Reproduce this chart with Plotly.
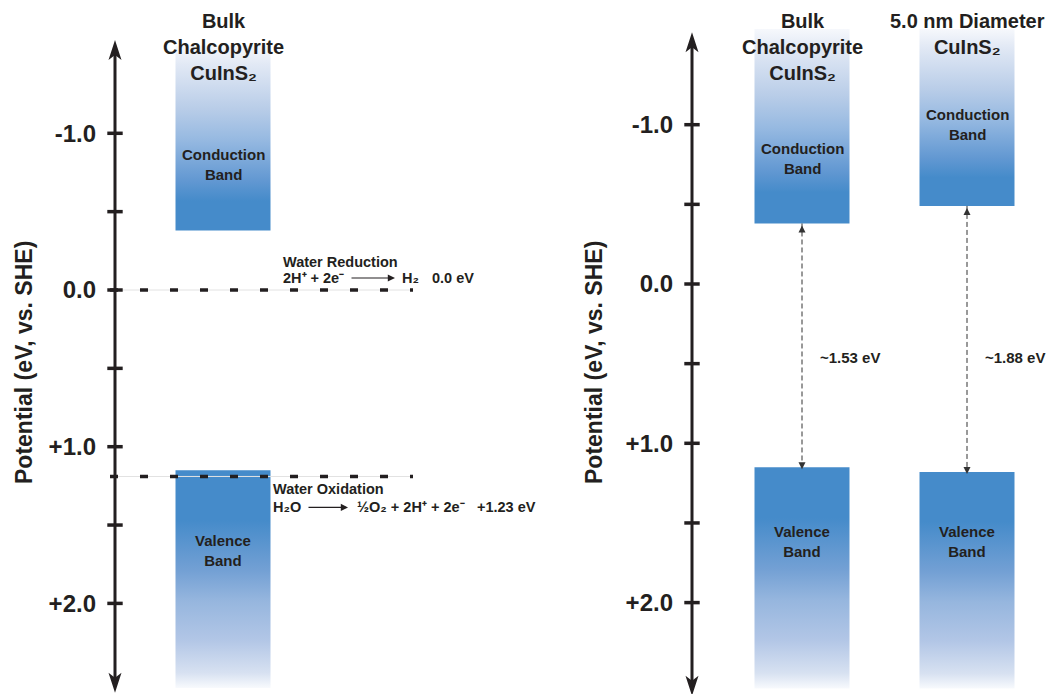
import plotly.graph_objects as go

# ------------------------------------------------------------------ data
TICK_VALUES = [-1.0, 0.0, 1.0, 2.0]
TICK_LABELS = ["-1.0", "0.0", "+1.0", "+2.0"]
TICK_MARKS = [-1.0, -0.5, 0.0, 0.5, 1.0, 1.5, 2.0]

LEFT_MATERIALS = ["Bulk<br>Chalcopyrite<br>CuInS₂"]
LEFT_CB_EDGE = [-0.38]
LEFT_VB_EDGE = [1.15]

RIGHT_MATERIALS = ["Bulk<br>Chalcopyrite<br>CuInS₂",
                   "5.0 nm Diameter<br>CuInS₂"]
RIGHT_CB_EDGE = [-0.38, -0.49]
RIGHT_VB_EDGE = [1.15, 1.18]
GAP_LABELS = ["~1.53 eV", "~1.88 eV"]

REDOX_NAMES = ["Water Reduction", "Water Oxidation"]
REDOX_LEVELS = [0.0, 1.19]
REDOX_REACTANTS = ["2H⁺ + 2e⁻", "H₂O"]
REDOX_PRODUCTS = ["H₂", "½O₂ + 2H⁺ + 2e⁻"]
REDOX_POTENTIALS = ["0.0 eV", "+1.23 eV"]

CB_LABEL = "Conduction<br>Band"
VB_LABEL = "Valence<br>Band"
AXIS_TITLE = "Potential (eV, vs. SHE)"

# ------------------------------------------------------------------ layout / style
W, H = 1053, 694
INK = "#231f20"
BLUE = "#458bca"
FONT = "Liberation Sans"
PX_PER_X = 100.0  # pixels per x unit

PANELS = [
    dict(name="left", xa="x", ya="y", axis_px=115, zero_px=290, px_per_ev=156.7,
         dom_px=(15, 565), axis_ends=(-1.595, 2.57), title_px=24,
         centers=[1.08], cb_top=-1.56, vb_bottom=2.54,
         cb_label_y=[-0.80], vb_label_y=[1.66]),
    dict(name="right", xa="x2", ya="y2", axis_px=692, zero_px=284, px_per_ev=159.3,
         dom_px=(592, 1053), axis_ends=(-1.58, 2.585), title_px=594,
         centers=[1.10, 2.75], cb_top=-1.60, vb_bottom=2.54,
         cb_label_y=[-0.79, -1.00], vb_label_y=[1.616, 1.616]),
]
BAND_W = 0.95

CB_SCALE = [[0.0, "rgb(246,248,252)"], [0.1, "rgb(226,233,245)"],
            [0.34, "rgb(185,205,232)"], [0.51, "rgb(150,185,225)"],
            [0.73, "rgb(98,152,210)"], [0.84, BLUE], [1.0, BLUE]]
VB_SCALE = [[0.0, BLUE], [0.23, BLUE], [0.46, "rgb(115,160,212)"],
            [0.6, "rgb(150,182,222)"], [0.78, "rgb(178,198,230)"],
            [0.93, "rgb(215,225,241)"], [1.0, "rgb(248,250,253)"]]

REDOX_ROWS = [
    dict(name_x=1.66, name_dy=28, row_x=1.66, row_dy=12, arrow=(2.35, 2.80),
         product_x=2.85, pot_x=3.15),
    dict(name_x=1.56, name_dy=-13, row_x=1.56, row_dy=-31, arrow=(1.92, 2.33),
         product_x=2.40, pot_x=3.60),
]

fig = go.Figure()
annotations = []
shapes = []


def txt(text, x, y, xref, yref, size, xanchor="center", yanchor="middle",
        yshift=0, textangle=0):
    return dict(text=text, x=x, y=y, xref=xref, yref=yref, showarrow=False,
                xanchor=xanchor, yanchor=yanchor, yshift=yshift, align="center",
                textangle=textangle,
                font=dict(family=FONT, size=size, color=INK, weight="bold"))


def add_band(p, center, y_far, y_edge, scale):
    x0, x1 = center - BAND_W / 2, center + BAND_W / 2
    lo, hi = min(y_far, y_edge), max(y_far, y_edge)
    fig.add_trace(go.Scatter(
        x=[x0, x1, x1, x0, x0], y=[y_far, y_far, y_edge, y_edge, y_far],
        xaxis=p["xa"], yaxis=p["ya"], mode="lines", fill="toself",
        line=dict(width=0), hoverinfo="skip",
        fillgradient=dict(type="vertical", colorscale=scale, start=lo, stop=hi)))


def add_axis(p):
    top, bottom = p["axis_ends"]
    shorten = 12.0 / p["px_per_ev"]
    fig.add_trace(go.Scatter(
        x=[0, 0], y=[top + shorten, bottom - shorten], xaxis=p["xa"], yaxis=p["ya"],
        mode="lines", line=dict(color=INK, width=3), hoverinfo="skip"))
    fig.add_trace(go.Scatter(
        x=[0] * len(TICK_MARKS), y=TICK_MARKS, xaxis=p["xa"], yaxis=p["ya"],
        mode="markers", cliponaxis=False, hoverinfo="skip",
        marker=dict(symbol="line-ew", size=11, line=dict(color=INK, width=3.5))))
    for tip, sign in ((top, 1), (bottom, -1)):
        shapes.append(dict(
            type="path", xref=p["xa"], yref=p["ya"], xsizemode="pixel",
            ysizemode="pixel", xanchor=0, yanchor=tip,
            path=f"M0,0 L-6.5,{-20 * sign} L0,{-15 * sign} L6.5,{-20 * sign} Z",
            fillcolor=INK, line=dict(width=0)))


# ---------------- bands
for p, cbs, vbs, mats in ((PANELS[0], LEFT_CB_EDGE, LEFT_VB_EDGE, LEFT_MATERIALS),
                          (PANELS[1], RIGHT_CB_EDGE, RIGHT_VB_EDGE, RIGHT_MATERIALS)):
    for i, (cb, vb, mat) in enumerate(zip(cbs, vbs, mats)):
        c = p["centers"][i]
        add_band(p, c, p["cb_top"], cb, CB_SCALE)
        add_band(p, c, p["vb_bottom"], vb, VB_SCALE)
        annotations.append(txt(CB_LABEL, c, p["cb_label_y"][i], p["xa"], p["ya"], 15))
        annotations.append(txt(VB_LABEL, c, p["vb_label_y"][i], p["xa"], p["ya"], 15))
        annotations.append(txt(mat, c, 1, p["xa"], "paper", 20, yanchor="top", yshift=-8))

# ---------------- redox levels (left panel)
for lev, name, react, prod, pot, row in zip(REDOX_LEVELS, REDOX_NAMES, REDOX_REACTANTS,
                                            REDOX_PRODUCTS, REDOX_POTENTIALS, REDOX_ROWS):
    fig.add_trace(go.Scatter(x=[0, 2.98], y=[lev, lev], mode="lines", hoverinfo="skip",
                             line=dict(color="#e2e2e2", width=1)))
    fig.add_trace(go.Scatter(x=[-0.05, 2.98], y=[lev, lev], mode="lines", hoverinfo="skip",
                             line=dict(color=INK, width=3.5, dash="8px,22px")))
    annotations.append(txt(name, row["name_x"], lev, "x", "y", 14.5, xanchor="left",
                           yshift=row["name_dy"]))
    annotations.append(txt(react, row["row_x"], lev, "x", "y", 14.5, xanchor="left",
                           yshift=row["row_dy"]))
    annotations.append(txt(prod, row["product_x"], lev, "x", "y", 14.5, xanchor="left",
                           yshift=row["row_dy"]))
    annotations.append(txt(pot, row["pot_x"], lev, "x", "y", 14.5, xanchor="left",
                           yshift=row["row_dy"]))
    annotations.append(dict(text="", x=row["arrow"][1], y=lev, ax=row["arrow"][0], ay=lev,
                            xref="x", yref="y", axref="x", ayref="y", showarrow=True,
                            arrowhead=2, arrowsize=1.2, arrowwidth=1.2, arrowcolor=INK,
                            yshift=row["row_dy"]))

# ---------------- band-gap arrows (right panel)
R = PANELS[1]
for c, cb, vb, lab in zip(R["centers"], RIGHT_CB_EDGE, RIGHT_VB_EDGE, GAP_LABELS):
    fig.add_trace(go.Scatter(
        x=[c, c], y=[cb, vb], xaxis="x2", yaxis="y2", mode="lines+markers",
        hoverinfo="skip", line=dict(color="#333333", width=1, dash="5px,3px"),
        marker=dict(symbol=["arrow-up", "arrow-down"], size=7, color="#333333",
                    standoff=2)))
    annotations.append(txt(lab, c + 0.16, 0.46, "x2", "y2", 15, xanchor="left"))

# ---------------- axes
for p in PANELS:
    add_axis(p)
    annotations.append(txt(AXIS_TITLE, p["title_px"] / W, 1 - 363 / H, "paper", "paper",
                           23, textangle=-90))

layout_axes = {}
for k, p in enumerate(PANELS):
    sfx = "" if k == 0 else "2"
    d0, d1 = p["dom_px"]
    x_lo = (d0 - p["axis_px"]) / PX_PER_X
    x_hi = (d1 - p["axis_px"]) / PX_PER_X
    y_top = -p["zero_px"] / p["px_per_ev"]
    y_bot = (H - p["zero_px"]) / p["px_per_ev"]
    layout_axes["xaxis" + sfx] = dict(domain=[d0 / W, d1 / W], range=[x_lo, x_hi],
                                      visible=False, anchor="y" + sfx)
    layout_axes["yaxis" + sfx] = dict(
        domain=[0, 1], range=[y_bot, y_top], anchor="free", position=p["axis_px"] / W,
        tickvals=TICK_VALUES, ticktext=TICK_LABELS, ticks="", showgrid=False,
        zeroline=False, showline=False, ticklabelstandoff=19, automargin=False,
        tickfont=dict(family=FONT, size=24, color=INK, weight="bold"))

fig.update_layout(
    width=W, height=H, margin=dict(l=0, r=0, t=0, b=0), template="none",
    paper_bgcolor="white", plot_bgcolor="white", showlegend=False,
    annotations=annotations, shapes=shapes, **layout_axes)

fig.write_html("out.html", config={"displayModeBar": False},
               post_script="document.body.style.margin='0';"
                           "document.body.style.overflow='hidden';")
